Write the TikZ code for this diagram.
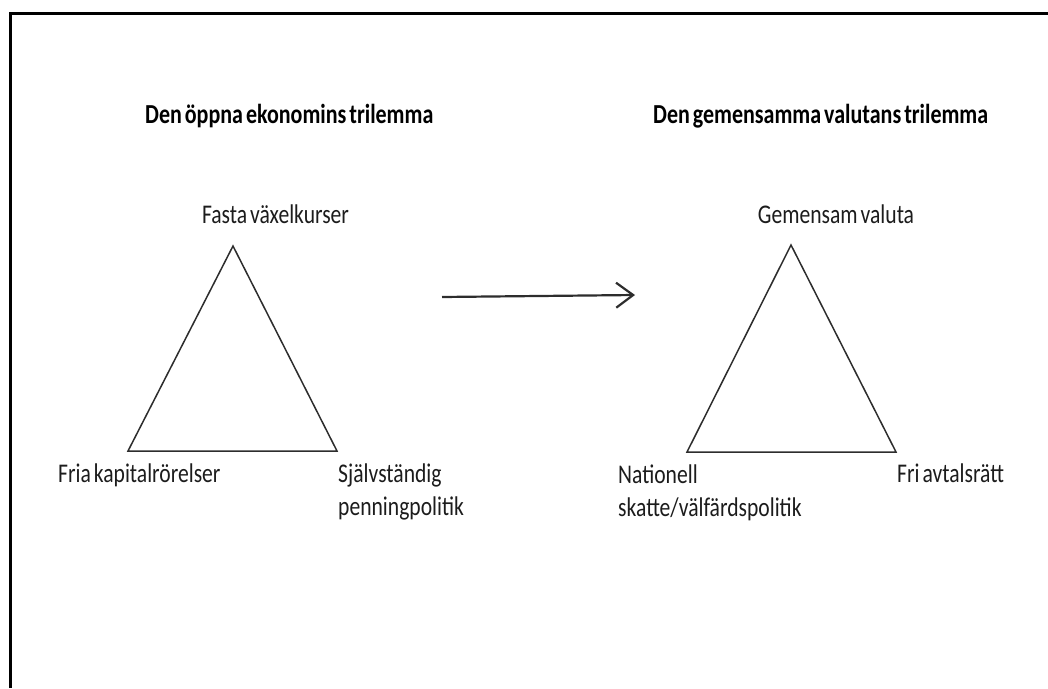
\documentclass[tikz,border=0pt]{standalone}
\usepackage{fontspec}
\setmainfont{Carlito}[FakeStretch=0.8,WordSpace=0.6]
\usetikzlibrary{arrows.meta,positioning}
\definecolor{inkgray}{RGB}{28,28,28}
\definecolor{linegray}{RGB}{45,45,45}

\begin{document}
\begin{tikzpicture}[
  x=1pt,y=-1pt,
  heading/.style={
    anchor=base west,
    inner sep=0pt,
    text=black,
    font=\fontsize{27.5}{33}\selectfont\bfseries
  },
  corner/.style={
    inner sep=0pt,
    text=inkgray,
    align=left,
    font=\fontsize{27}{33}\selectfont
  },
  side/.style={linegray,line width=1.5pt,line join=miter},
  passage/.style={-{Straight Barb[length=17pt,width=25pt,line width=2.2pt]},line width=2.2pt,linegray}
]
\useasboundingbox (0,0) rectangle (1048,688);
% frame (only top and left edges are visible)
\draw[line width=2.5pt,black] (10.5,688) -- (10.5,13.5) -- (1048,13.5);

% left trilemma
\node[heading] (titleL) at (145,123) {Den öppna ekonomins trilemma};
\coordinate (topL) at (233,246);
\coordinate (leftL) at (128,451);
\coordinate (rightL) at (337,451);
\draw[side] (topL) -- (leftL) -- (rightL) -- cycle;
\node[corner,anchor=base] (fixed) at (275.5,223) {Fasta växelkurser};
\node[corner,anchor=base west] (capital) at (58,482) {Fria kapitalrörelser};
\node[corner,anchor=base west] (monetary) at (338,515) {Självständig\\penningpolitik};

% transition
\coordinate (from) at (442,297);
\coordinate (to) at (635,295);
\draw[passage] (from) -- (to);

% right trilemma
\node[heading] (titleR) at (653,123) {Den gemensamma valutans trilemma};
\coordinate (topR) at (791,245);
\coordinate (leftR) at (687,452);
\coordinate (rightR) at (896,452);
\draw[side] (topR) -- (leftR) -- (rightR) -- cycle;
\node[corner,anchor=base] (currency) at (836,223) {Gemensam valuta};
\node[corner,anchor=base west] (fiscal) at (618,516) {Nationell\\skatte/välfärdspolitik};
\node[corner,anchor=base west] (wages) at (897,482) {Fri avtalsrätt};
\end{tikzpicture}
\end{document}
